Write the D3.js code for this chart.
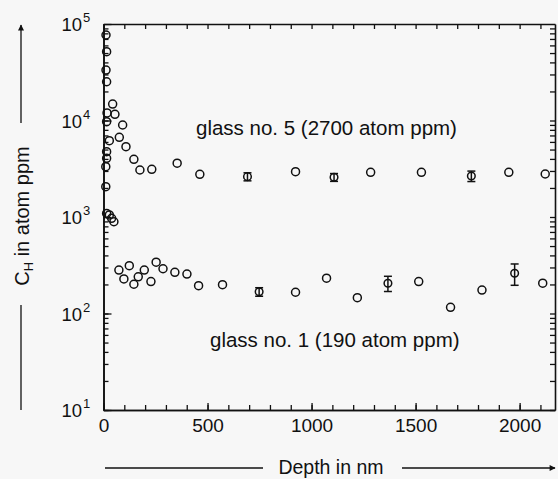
<!DOCTYPE html>
<html>
<head>
<meta charset="utf-8">
<script src="https://cdn.jsdelivr.net/npm/d3@7"></script>
<style>
  body { margin: 0; background: #f7f7f7; }
  svg { display: block; font-family: "Liberation Sans", Arial, sans-serif; }
</style>
</head>
<body>
<svg id="chart" width="558" height="479"></svg>
<script>

// glass no. 5 (upper series): depth in nm, C_H in atom ppm
const g5Depth = [12, 15, 12, 15, 44, 17, 55, 15, 92, 76, 28, 108, 15, 15, 146, 11, 175, 232, 354, 11,
                 463, 923, 1284, 1528, 1948, 2123]
const g5Value = [76900, 51600, 33300, 25200, 14800, 11970, 11600, 9730, 8980, 6700, 6180, 5360, 4750, 4060, 3960, 3320, 3070, 3120, 3610, 2060,
                 2770, 2945, 2905, 2905, 2905, 2790]
// points of glass no. 5 with error bars
const g5ErrDepth = [692, 1108, 1768]
const g5ErrValue = [2620, 2580, 2660]
const g5ErrSize  = [250, 240, 330]

// glass no. 1 (lower series)
const g1Depth = [15, 28, 39, 50, 74, 98, 124, 146, 167, 196, 228, 253, 286, 343, 401, 457, 572,
                 923, 1072, 1220, 1515, 1668, 1819, 2111]
const g1Value = [1090, 1050, 970, 893, 282, 228, 313, 201, 240, 282, 214, 340, 291, 267, 256, 194, 199,
                 166, 232, 146, 214, 116, 175, 206]
const g1ErrDepth = [748, 1367, 1976]
const g1ErrValue = [168, 206, 261]
const g1ErrSize  = [17, 37, 65]

const xMajor = [0, 500, 1000, 1500, 2000]
const yMajor = [10, 100, 1000, 10000, 100000]
const yExp   = ["1", "2", "3", "4", "5"]

const svg = d3.select('#chart')

const plotLeft = 103.5, plotRight = 555, plotTop = 24, plotBottom = 410

const x = d3.scaleLinear().domain([0, 2170]).range([plotLeft, plotRight])
const y = d3.scaleLog().domain([10, 100000]).range([plotBottom, plotTop])

const xMinor = d3.range(0, 2170, 100)
const yMinor = []
yMajor.slice(0, -1).forEach(function(p) { for (let k = 1; k < 10; k++) yMinor.push(p * k) })

// bottom axis, ticks inward
svg.append('g')
    .attr('transform', 'translate(0,' + plotBottom + ')')
    .call(d3.axisBottom(x).tickValues(xMinor).tickSizeInner(-5).tickSizeOuter(0).tickFormat(''))
svg.append('g')
    .attr('class', 'xlab')
    .attr('transform', 'translate(0,' + plotBottom + ')')
    .call(d3.axisBottom(x).tickValues(xMajor).tickSizeInner(-7).tickSizeOuter(0).tickPadding(9)
        .tickFormat(d3.format('d')))

// top axis
svg.append('g')
    .attr('transform', 'translate(0,' + plotTop + ')')
    .call(d3.axisTop(x).tickValues(xMinor).tickSizeInner(-5).tickSizeOuter(0).tickFormat(''))

// left axis
svg.append('g')
    .attr('transform', 'translate(' + plotLeft + ',0)')
    .call(d3.axisLeft(y).tickValues(yMinor).tickSizeInner(-5).tickSizeOuter(0).tickFormat(''))
svg.append('g')
    .attr('transform', 'translate(' + plotLeft + ',0)')
    .call(d3.axisLeft(y).tickValues(yMajor).tickSizeInner(-8).tickSizeOuter(0).tickFormat(''))

// right axis
svg.append('g')
    .attr('transform', 'translate(' + plotRight + ',0)')
    .call(d3.axisRight(y).tickValues(yMinor).tickSizeInner(-5).tickSizeOuter(0).tickFormat(''))

svg.selectAll('.domain').attr('stroke', '#111').attr('stroke-width', 1.6)
svg.selectAll('.tick line').attr('stroke', '#111').attr('stroke-width', 1.3)

svg.selectAll('.xlab text')
    .attr('font-size', 19)
    .attr('font-family', '"Liberation Sans", Arial, sans-serif')
    .attr('fill', '#111')

// y labels 10^n
const ylab = svg.append('g')
yMajor.forEach(function(v, i) {
    ylab.append('text')
        .attr('x', 82)
        .attr('y', y(v) + 7)
        .attr('text-anchor', 'end')
        .attr('font-size', 18.5)
        .attr('fill', '#111')
        .text('10')
    ylab.append('text')
        .attr('x', 83)
        .attr('y', y(v) - 2)
        .attr('font-size', 13)
        .attr('fill', '#111')
        .text(yExp[i])
})

// data marks
const plot = svg.append('g')

function drawCircles(depths, values) {
    plot.selectAll(null)
        .data(depths.map((d, i) => [d, values[i]]))
        .enter().append('circle')
            .attr('cx', d => x(d[0]))
            .attr('cy', d => y(d[1]))
            .attr('r', 4)
            .attr('fill', 'none')
            .attr('stroke', '#111')
            .attr('stroke-width', 1.5)
}

function drawErrors(depths, values, errs) {
    const data = depths.map((d, i) => [d, values[i], errs[i]])
    const g = plot.selectAll(null).data(data).enter().append('g')
    g.append('line')
        .attr('x1', d => x(d[0])).attr('x2', d => x(d[0]))
        .attr('y1', d => y(d[1] - d[2])).attr('y2', d => y(d[1] + d[2]))
    g.append('line')
        .attr('x1', d => x(d[0]) - 4).attr('x2', d => x(d[0]) + 4)
        .attr('y1', d => y(d[1] - d[2])).attr('y2', d => y(d[1] - d[2]))
    g.append('line')
        .attr('x1', d => x(d[0]) - 4).attr('x2', d => x(d[0]) + 4)
        .attr('y1', d => y(d[1] + d[2])).attr('y2', d => y(d[1] + d[2]))
    g.selectAll('line').attr('stroke', '#111').attr('stroke-width', 1.5)
    g.append('circle')
        .attr('cx', d => x(d[0]))
        .attr('cy', d => y(d[1]))
        .attr('r', 3.8)
        .attr('fill', 'none')
        .attr('stroke', '#111')
        .attr('stroke-width', 1.5)
}

drawCircles(g5Depth, g5Value)
drawCircles(g1Depth, g1Value)
drawErrors(g5ErrDepth, g5ErrValue, g5ErrSize)
drawErrors(g1ErrDepth, g1ErrValue, g1ErrSize)

// series labels
svg.append('text')
    .attr('x', 196).attr('y', 135)
    .attr('font-size', 20.5).attr('fill', '#111')
    .text('glass no. 5 (2700 atom ppm)')
svg.append('text')
    .attr('x', 210).attr('y', 347)
    .attr('font-size', 20.5).attr('fill', '#111')
    .text('glass no. 1 (190 atom ppm)')

// axis titles with arrows
svg.append('defs').append('marker')
    .attr('id', 'arrow')
    .attr('viewBox', '0 0 10 10')
    .attr('refX', 9).attr('refY', 5)
    .attr('markerWidth', 14).attr('markerHeight', 6)
    .attr('markerUnits', 'userSpaceOnUse')
    .attr('orient', 'auto')
  .append('path')
    .attr('d', 'M0,0L10,5L0,10Z')
    .attr('fill', '#111')

svg.append('line')
    .attr('x1', 105).attr('x2', 263).attr('y1', 468).attr('y2', 468)
    .attr('stroke', '#111').attr('stroke-width', 1.3)
svg.append('line')
    .attr('x1', 402).attr('x2', 555).attr('y1', 468).attr('y2', 468)
    .attr('stroke', '#111').attr('stroke-width', 1.3)
    .attr('marker-end', 'url(#arrow)')
svg.append('text')
    .attr('x', 331).attr('y', 474)
    .attr('text-anchor', 'middle')
    .attr('font-size', 19.5).attr('fill', '#111')
    .text('Depth in nm')

svg.append('line')
    .attr('x1', 21).attr('x2', 21).attr('y1', 410).attr('y2', 305)
    .attr('stroke', '#111').attr('stroke-width', 1.3)
svg.append('line')
    .attr('x1', 21).attr('x2', 21).attr('y1', 123).attr('y2', 25)
    .attr('stroke', '#111').attr('stroke-width', 1.3)
    .attr('marker-end', 'url(#arrow)')
const yt = svg.append('text')
    .attr('transform', 'translate(29,216) rotate(-90)')
    .attr('text-anchor', 'middle')
    .attr('font-size', 20).attr('fill', '#111')
yt.append('tspan').text('C')
yt.append('tspan').attr('font-size', 13).attr('dy', 4).text('H')
yt.append('tspan').attr('dy', -4).text(' in atom ppm')

</script>
</body>
</html>
